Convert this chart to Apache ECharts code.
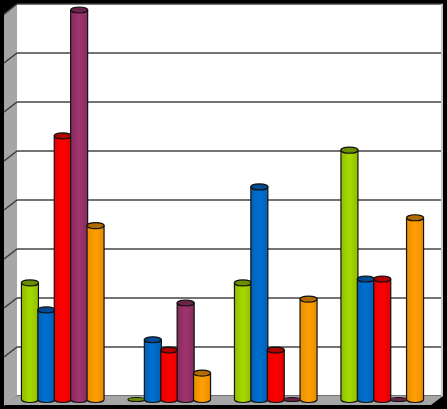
<!DOCTYPE html>
<html><head><meta charset="utf-8">
<style>html,body{margin:0;padding:0;background:#000}#c{width:447px;height:409px}</style>
<script src="https://cdn.jsdelivr.net/npm/echarts@6/dist/echarts.min.js"></script>
</head><body><div id="c"></div>
<script>
const categories = ['A', 'B', 'C', 'D'];
const tickValues = [0, 10, 20, 30, 40, 50, 60, 70, 80];
const seriesA = [24.3, 0, 24.3, 51.4];
const seriesB = [18.8, 12.7, 43.9, 25.1];
const seriesC = [54.3, 10.6, 10.6, 25.1];
const seriesD = [80, 20.2, 0, 0];
const seriesE = [36, 5.9, 21, 37.6];
const allSeries = [seriesA, seriesB, seriesC, seriesD, seriesE];
const bodyColors = ['#A6D900', '#0070D0', '#FF0000', '#A03570', '#FF9F00'];
const edgeColors = ['#8FBC00', '#005FB5', '#E60000', '#85295A', '#E68E00'];
const topColors = ['#6B8F00', '#004A94', '#B00000', '#6B2447', '#B36B00'];

const L = 17, T = 4, W = 426, H = 392;
const DX = -7.5, DY = 6, SPACING = 16.4, BAR_W = 17, RY = 3;

function barRender(si) {
  return function (params, api) {
    const c = api.coord([api.value(0), api.value(1)]);
    const base = api.coord([api.value(0), 0]);
    const cx = c[0] + DX + (si - 2) * SPACING;
    const yTop = c[1] + DY, yBase = base[1] + DY - 2.5;
    const rx = BAR_W / 2;
    const tall = yBase - yTop > 0.5;
    const grad = new echarts.graphic.LinearGradient(0, 0, 1, 0, [
      { offset: 0, color: edgeColors[si] },
      { offset: 0.5, color: bodyColors[si] },
      { offset: 1, color: edgeColors[si] }
    ]);
    const stroke = { stroke: '#111', lineWidth: 1.2 };
    const children = [];
    if (tall) {
      children.push({
        type: 'path',
        shape: {
          pathData: `M${cx - rx} ${yTop}L${cx - rx} ${yBase}A${rx} ${RY} 0 0 0 ${cx + rx} ${yBase}L${cx + rx} ${yTop}Z`,
          layout: 'cover',
          x: cx - rx, y: yTop, width: BAR_W, height: yBase - yTop + RY
        },
        style: Object.assign({ fill: grad }, stroke)
      });
    }
    children.push({
      type: 'ellipse',
      shape: { cx: cx, cy: tall ? yTop : yBase, rx: rx, ry: tall ? RY : 2 },
      style: Object.assign({ fill: topColors[si] }, stroke)
    });
    return { type: 'group', children: children };
  };
}

function wallLines(params, api) {
  const c = api.coord([0, api.value(0)]);
  return {
    type: 'line',
    shape: { x1: L, y1: c[1], x2: L - 13, y2: c[1] + 10 },
    style: { stroke: '#3a3a3a', lineWidth: 1.5 }
  };
}

const chart = echarts.init(document.getElementById('c'), null, { renderer: 'canvas' });
chart.setOption({
  animation: false,
  backgroundColor: '#000',
  grid: { left: L, top: T, width: W, height: H, show: true, backgroundColor: '#fff', borderWidth: 0 },
  xAxis: {
    type: 'category', data: categories,
    axisLine: { show: false }, axisTick: { show: false }, axisLabel: { show: false }
  },
  yAxis: {
    type: 'value', min: 0, max: 80, interval: 10,
    axisLine: { show: false }, axisTick: { show: false }, axisLabel: { show: false },
    splitLine: { show: true, lineStyle: { color: '#444', width: 1.5 } }
  },
  graphic: [
    { type: 'polygon', z: 1, shape: { points: [[4, 15], [L, T], [L, 396], [4, 406]] }, style: { fill: '#a6a6a6' } },
    { type: 'polygon', z: 1, shape: { points: [[L, 396], [443, 396], [431, 405], [4, 405]] }, style: { fill: '#a6a6a6' } },
    { type: 'rect', z: 1, shape: { x: 441, y: T, width: 2, height: 392 }, style: { fill: '#c8c8c8' } }
  ],
  series: [
    {
      type: 'custom', renderItem: wallLines, coordinateSystem: 'cartesian2d', z: 3, silent: true,
      encode: { y: 0 }, data: tickValues.slice(1).map(v => [v])
    }
  ].concat(allSeries.map((vals, si) => ({
    type: 'custom', name: 'S' + si, coordinateSystem: 'cartesian2d', z: 4 + si, clip: false,
    renderItem: barRender(si), encode: { x: 0, y: 1 },
    data: vals.map((v, i) => [i, v])
  })))
});
</script></body></html>
